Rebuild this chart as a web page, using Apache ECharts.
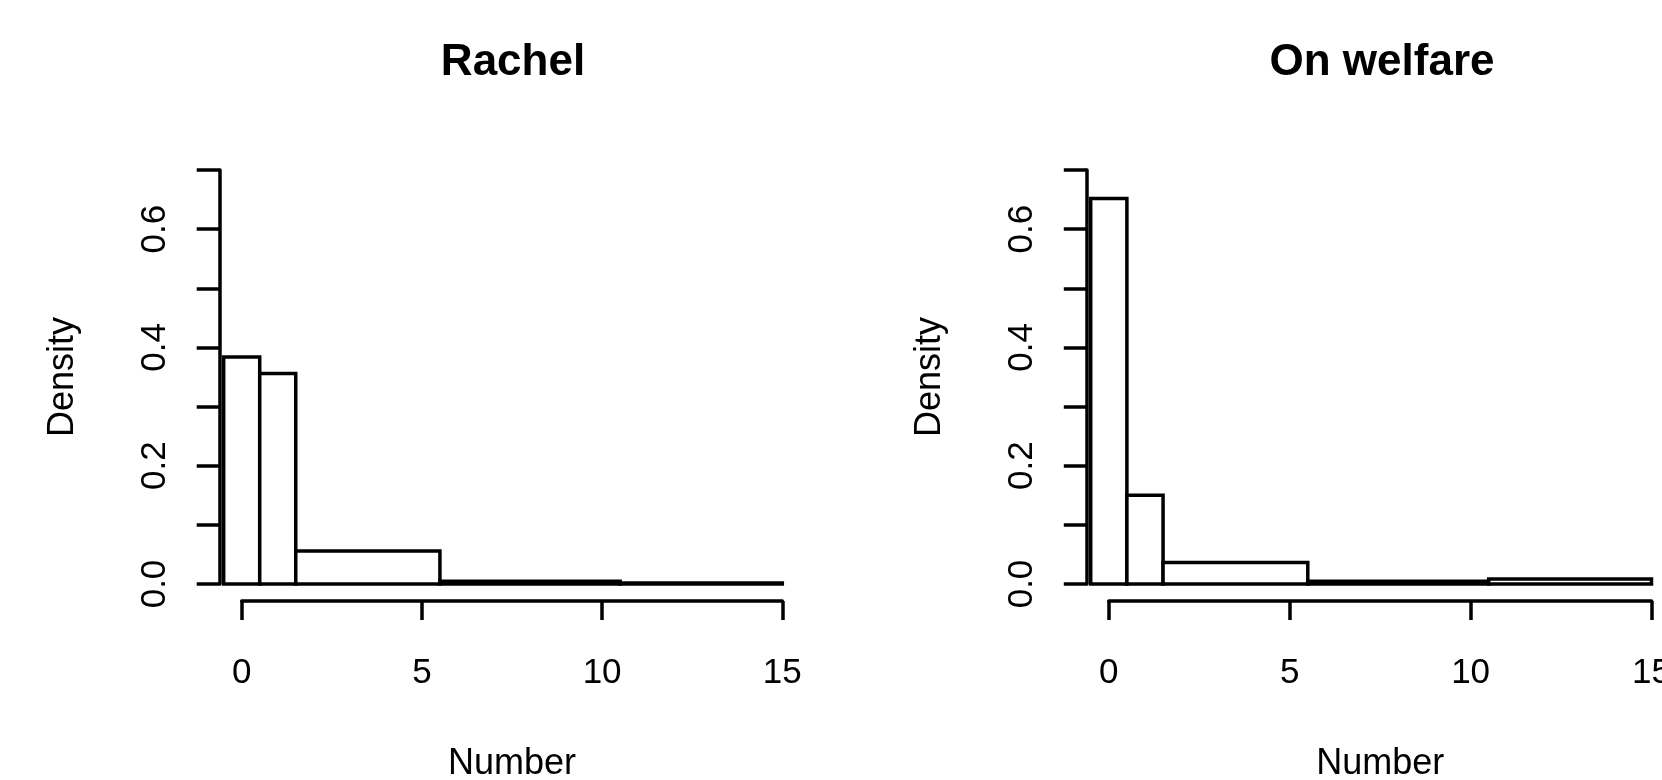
<!DOCTYPE html>
<html>
<head>
<meta charset="utf-8">
<script src="https://cdn.jsdelivr.net/npm/echarts@6/dist/echarts.min.js"></script>
<style>
html,body{margin:0;padding:0;background:#fff;}
#chart{width:1662px;height:780px;}
</style>
</head>
<body>
<div id="chart"></div>
<script>
// Histogram bin breaks (Number)
var breaks = [-0.5, 0.5, 1.5, 5.5, 10.5, 15];
// Densities per bin
var rachelDensity = [0.384, 0.356, 0.056, 0.0046, 0.0017];
var welfareDensity = [0.652, 0.150, 0.0363, 0.0046, 0.0084];
var panelTitles = ['Rachel', 'On welfare'];
var xTicks = [0, 5, 10, 15];
var yTicks = [0, 0.1, 0.2, 0.3, 0.4, 0.5, 0.6, 0.7];

function binsOf(dens) {
  var out = [];
  for (var i = 0; i < dens.length; i++) out.push([breaks[i], breaks[i + 1], dens[i]]);
  return out;
}

var FONT = '"Liberation Sans", Arial, Helvetica, sans-serif';
var LW = 3.5;

function renderItem(params, api) {
  var p0 = api.coord([api.value(0), api.value(2)]);
  var p1 = api.coord([api.value(1), 0]);
  return {
    type: 'rect',
    shape: { x: p0[0], y: p0[1], width: p1[0] - p0[0], height: p1[1] - p0[1] },
    style: { fill: '#fff', stroke: '#000', lineWidth: LW }
  };
}

var grids = [
  { left: 241.7, top: 170, width: 540.6, height: 414, containLabel: false, outerBoundsMode: 'none' },
  { left: 1108.8, top: 170, width: 542.7, height: 414, containLabel: false, outerBoundsMode: 'none' }
];

function xAxisFor(i) {
  return {
    gridIndex: i, type: 'value', min: xTicks[0], max: xTicks[xTicks.length - 1], interval: 5,
    position: 'bottom', offset: 17,
    splitLine: { show: false },
    axisLine: { show: true, onZero: false, lineStyle: { color: '#000', width: LW } },
    axisTick: { show: true, length: 19, lineStyle: { color: '#000', width: LW } },
    axisLabel: { fontSize: 35, fontFamily: FONT, color: '#000', margin: 55, showMinLabel: true, showMaxLabel: true },
    name: 'Number', nameLocation: 'middle', nameGap: 145,
    nameTextStyle: { fontSize: 36, fontFamily: FONT, color: '#000' }
  };
}
function yAxisFor(i) {
  return {
    gridIndex: i, type: 'value', min: yTicks[0], max: yTicks[yTicks.length - 1], interval: 0.1,
    position: 'left', offset: 22,
    splitLine: { show: false },
    axisLine: { show: true, onZero: false, lineStyle: { color: '#000', width: LW } },
    axisTick: { show: true, length: 23, lineStyle: { color: '#000', width: LW } },
    axisLabel: {
      fontSize: 35, fontFamily: FONT, color: '#000', rotate: 90, margin: 47,
      showMinLabel: true, showMaxLabel: true,
      formatter: function (v) { var k = Math.round(v * 10); return k % 2 === 0 ? (k / 10).toFixed(1) : ''; }
    },
    name: 'Density', nameLocation: 'middle', nameGap: 139, nameRotate: 90,
    nameTextStyle: { fontSize: 36, fontFamily: FONT, color: '#000' }
  };
}

var chart = echarts.init(document.getElementById('chart'), null, { renderer: 'canvas' });
chart.setOption({
  animation: false,
  backgroundColor: '#fff',
  title: [
    { text: panelTitles[0], left: 508, top: 36, textAlign: 'center',
      textStyle: { fontSize: 44, fontWeight: 'bold', fontFamily: FONT, color: '#000' } },
    { text: panelTitles[1], left: 1377, top: 36, textAlign: 'center',
      textStyle: { fontSize: 44, fontWeight: 'bold', fontFamily: FONT, color: '#000' } }
  ],
  grid: grids,
  xAxis: [xAxisFor(0), xAxisFor(1)],
  yAxis: [yAxisFor(0), yAxisFor(1)],
  series: [
    { type: 'custom', xAxisIndex: 0, yAxisIndex: 0, clip: false, renderItem: renderItem,
      encode: { x: [0, 1], y: 2 }, data: binsOf(rachelDensity) },
    { type: 'custom', xAxisIndex: 1, yAxisIndex: 1, clip: false, renderItem: renderItem,
      encode: { x: [0, 1], y: 2 }, data: binsOf(welfareDensity) }
  ]
});
</script>
</body>
</html>
